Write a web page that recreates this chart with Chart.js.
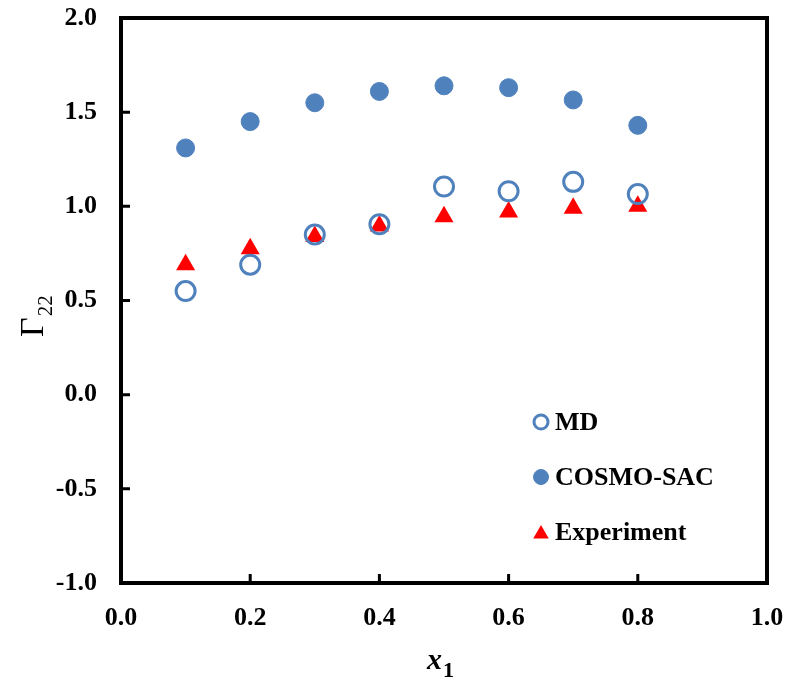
<!DOCTYPE html>
<html>
<head>
<meta charset="utf-8">
<script src="https://cdn.jsdelivr.net/npm/chart.js@4/dist/chart.umd.min.js"></script>
<style>
html, body { margin: 0; padding: 0; background: #fff; }
#wrap { width: 803px; height: 681px; }
</style>
</head>
<body>
<div id="wrap"><canvas id="c"></canvas></div>
<script>
// data
const xValues = [0.1, 0.2, 0.3, 0.4, 0.5, 0.6, 0.7, 0.8];
const mdValues = [0.55, 0.69, 0.85, 0.905, 1.105, 1.08, 1.13, 1.065];
const cosmoValues = [1.31, 1.45, 1.55, 1.61, 1.64, 1.63, 1.565, 1.43];
const expValues = [0.69, 0.775, 0.84, 0.895, 0.945, 0.97, 0.99, 1.0];
const seriesNames = ['MD', 'COSMO-SAC', 'Experiment'];
const xTicks = [0, 0.2, 0.4, 0.6, 0.8, 1.0];
const yTicks = [-1, -0.5, 0, 0.5, 1, 1.5, 2];

const BLUE = '#4F81BD';
const RED = '#FF0000';
const SERIF = '"Liberation Serif", "Times New Roman", serif';

const pts = vals => xValues.map((x, i) => ({ x: x, y: vals[i] }));

// frame, inward ticks, axis titles with subscripts, legend inside plot
const decor = {
  id: 'decor',
  afterDraw(chart) {
    const { ctx, chartArea: a, scales: { x, y } } = chart;
    ctx.save();
    ctx.strokeStyle = '#000';
    ctx.lineWidth = 4;
    ctx.strokeRect(a.left, a.top, a.right - a.left, a.bottom - a.top);
    ctx.lineWidth = 3;
    ctx.beginPath();
    xTicks.slice(1, -1).forEach(v => {
      const px = x.getPixelForValue(v);
      ctx.moveTo(px, a.bottom); ctx.lineTo(px, a.bottom - 9);
    });
    yTicks.slice(1, -1).forEach(v => {
      const py = y.getPixelForValue(v);
      ctx.moveTo(a.left, py); ctx.lineTo(a.left + 9, py);
    });
    ctx.stroke();

    ctx.fillStyle = '#000';
    ctx.textBaseline = 'alphabetic';
    ctx.textAlign = 'left';

    // y title: Γ22 rotated
    ctx.save();
    ctx.translate(43, 337);
    ctx.rotate(-Math.PI / 2);
    ctx.font = '34px ' + SERIF;
    ctx.fillText('Γ', 0, 0);
    const gw = ctx.measureText('Γ').width;
    ctx.font = '21px ' + SERIF;
    ctx.fillText('22', gw + 1, 9);
    ctx.restore();

    // x title: x1
    ctx.font = 'italic bold 30px ' + SERIF;
    const xw = ctx.measureText('x').width;
    ctx.fillText('x', 427, 669);
    ctx.font = 'bold 22px ' + SERIF;
    ctx.fillText('1', 427 + xw + 1, 677);

    // legend
    const items = chart.data.datasets;
    const lx = 541, ly = [422, 477, 532];
    items.forEach((ds, i) => {
      const st = {
        pointStyle: ds.pointStyle,
        radius: ds.legendRadius,
        rotation: 0,
        borderWidth: ds.borderWidth
      };
      ctx.fillStyle = ds.backgroundColor;
      ctx.strokeStyle = ds.borderColor;
      ctx.lineWidth = ds.borderWidth;
      Chart.helpers.drawPoint(ctx, st, lx, ly[i] + (ds.pointStyle === 'triangle' ? 2 : 0));
      ctx.fillStyle = '#000';
      ctx.font = 'bold 26px ' + SERIF;
      ctx.textBaseline = 'middle';
      ctx.fillText(ds.label, 555, ly[i] + 1);
    });
    ctx.restore();
  }
};

const noPad = s => { s.paddingTop = 0; s.paddingBottom = 0; s.paddingLeft = 0; s.paddingRight = 0; };

new Chart(document.getElementById('c'), {
  type: 'scatter',
  data: {
    datasets: [
      {
        label: seriesNames[0], data: pts(mdValues),
        pointStyle: 'circle', pointRadius: 9.5, legendRadius: 7,
        backgroundColor: 'rgba(0,0,0,0)', borderColor: BLUE, borderWidth: 3
      },
      {
        label: seriesNames[1], data: pts(cosmoValues),
        pointStyle: 'circle', pointRadius: 9, legendRadius: 7.5,
        backgroundColor: BLUE, borderColor: BLUE, borderWidth: 1
      },
      {
        label: seriesNames[2], data: pts(expValues),
        pointStyle: 'triangle', pointRadius: 11, legendRadius: 9,
        backgroundColor: RED, borderColor: RED, borderWidth: 0
      }
    ]
  },
  options: {
    responsive: true,
    maintainAspectRatio: false,
    animation: false,
    layout: { padding: { left: 0, top: 18, right: 36, bottom: 0 } },
    plugins: { legend: { display: false }, tooltip: { enabled: false } },
    elements: { point: { hoverRadius: 9 } },
    scales: {
      x: {
        type: 'linear', min: 0, max: 1,
        grid: { display: false, drawTicks: false },
        border: { display: false },
        afterFit: s => { noPad(s); s.height = 98; },
        ticks: {
          stepSize: 0.2, padding: 20, color: '#000',
          font: { family: SERIF, size: 26, weight: 'bold' },
          callback: v => Number(v).toFixed(1)
        }
      },
      y: {
        type: 'linear', min: -1, max: 2,
        grid: { display: false, drawTicks: false },
        border: { display: false },
        afterFit: s => { noPad(s); s.width = 121; },
        ticks: {
          stepSize: 0.5, padding: 24, color: '#000',
          font: { family: SERIF, size: 26, weight: 'bold' },
          callback: v => Number(v).toFixed(1)
        }
      }
    }
  },
  plugins: [decor]
});
</script>
</body>
</html>
